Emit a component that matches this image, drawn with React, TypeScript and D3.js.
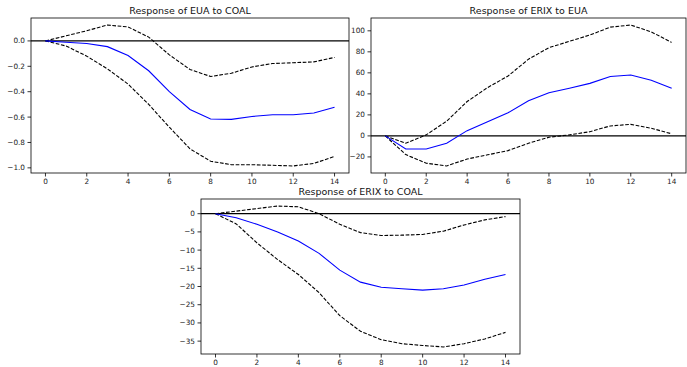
import * as d3 from 'd3';

// horizons 0..14
const steps = d3.range(0, 15);

// Response of EUA to COAL
const euaCoal = [0, -0.01, -0.02, -0.045, -0.115, -0.235, -0.4, -0.54, -0.615, -0.618, -0.595, -0.582, -0.582, -0.568, -0.522];
const euaCoalHi = [0, 0.04, 0.08, 0.125, 0.11, 0.03, -0.11, -0.225, -0.28, -0.255, -0.205, -0.178, -0.172, -0.165, -0.13];
const euaCoalLo = [0, -0.04, -0.12, -0.22, -0.34, -0.5, -0.68, -0.85, -0.948, -0.975, -0.975, -0.98, -0.985, -0.965, -0.91];

// Response of ERIX to EUA
const erixEua = [0, -12.4, -12.4, -7, 5, 13.5, 22, 33.5, 41, 45.4, 50, 56.5, 58, 53, 45.4];
const erixEuaHi = [0, -7, 1, 14, 32.7, 46, 57, 73, 84, 90, 96, 103.5, 105.5, 99, 89];
const erixEuaLo = [0, -17.8, -26, -28.6, -22, -18, -14, -7, -1.3, 1, 4, 9.5, 11, 7.3, 2];

// Response of ERIX to COAL
const erixCoal = [0, -1.1, -2.9, -5, -7.5, -10.9, -15.5, -18.8, -20.2, -20.6, -21, -20.6, -19.6, -18, -16.7];
const erixCoalHi = [0, 0.7, 1.4, 2.1, 1.9, 0, -2.9, -5.2, -6, -5.9, -5.7, -4.8, -3.1, -1.7, -0.8];
const erixCoalLo = [0, -2.8, -8, -12.6, -16.7, -21.7, -28, -32.3, -34.6, -35.7, -36.2, -36.6, -35.7, -34.4, -32.6];

const xTicks = [0, 2, 4, 6, 8, 10, 12, 14];
const euaCoalTicks = [0, -0.2, -0.4, -0.6, -0.8, -1.0];
const erixEuaTicks = [-20, 0, 20, 40, 60, 80, 100];
const erixCoalTicks = [0, -5, -10, -15, -20, -25, -30, -35];

const FONT = '"DejaVu Sans", sans-serif';

type PanelProps = {
  title: string;
  x0: number; y0: number; w: number; h: number;
  mid: number[]; hi: number[]; lo: number[];
  yTicks: number[]; fmt: (v: number) => string;
};

function Panel({ title, x0, y0, w, h, mid, hi, lo, yTicks, fmt }: PanelProps) {
  const all = mid.concat(hi, lo);
  const ymin = d3.min(all) as number;
  const ymax = d3.max(all) as number;
  const pad = (ymax - ymin) * 0.05;
  const x = d3.scaleLinear().domain([-0.7, 14.7]).range([0, w]);
  const y = d3.scaleLinear().domain([ymin - pad, ymax + pad]).range([h, 0]);
  const line = d3.line<number>().x((_, i) => x(steps[i])).y(d => y(d));

  return (
    <g transform={`translate(${x0},${y0})`}>
      <rect x={0} y={0} width={w} height={h} fill="#fff" />
      <line x1={0} x2={w} y1={y(0)} y2={y(0)} stroke="#000" strokeWidth={1.2} />
      <path d={line(hi) || ''} fill="none" stroke="#000" strokeWidth={1.1} strokeDasharray="3.7,1.6" />
      <path d={line(lo) || ''} fill="none" stroke="#000" strokeWidth={1.1} strokeDasharray="3.7,1.6" />
      <path d={line(mid) || ''} fill="none" stroke="#0000ff" strokeWidth={1.1} />
      <rect x={0} y={0} width={w} height={h} fill="none" stroke="#000" strokeWidth={0.8} />
      {xTicks.map(t => (
        <g key={'x' + t} transform={`translate(${x(t)},${h})`}>
          <line y1={0} y2={3.5} stroke="#000" strokeWidth={0.8} />
          <text y={11} textAnchor="middle" fontSize={7.3} fontFamily={FONT} fill="#222">{t}</text>
        </g>
      ))}
      {yTicks.map(t => (
        <g key={'y' + t} transform={`translate(0,${y(t)})`}>
          <line x1={-3.5} x2={0} stroke="#000" strokeWidth={0.8} />
          <text x={-6} dy="0.35em" textAnchor="end" fontSize={7.3} fontFamily={FONT} fill="#222">{fmt(t)}</text>
        </g>
      ))}
      <text x={w / 2} y={-4} textAnchor="middle" fontSize={9.5} fontFamily={FONT} fill="#111">{title}</text>
    </g>
  );
}

export default function App() {
  const f1 = d3.format('.1f');
  const f0 = d3.format('d');
  return (
    <svg width={687} height={367} style={{ position: 'absolute', left: 0, top: 0, background: '#fff' }}>
      <Panel title="Response of EUA to COAL" x0={31} y0={18} w={318} h={155}
        mid={euaCoal} hi={euaCoalHi} lo={euaCoalLo} yTicks={euaCoalTicks} fmt={f1} />
      <Panel title="Response of ERIX to EUA" x0={371} y0={18} w={315} h={155}
        mid={erixEua} hi={erixEuaHi} lo={erixEuaLo} yTicks={erixEuaTicks} fmt={f0} />
      <Panel title="Response of ERIX to COAL" x0={201} y0={199} w={319} h={155}
        mid={erixCoal} hi={erixCoalHi} lo={erixCoalLo} yTicks={erixCoalTicks} fmt={f0} />
    </svg>
  );
}
